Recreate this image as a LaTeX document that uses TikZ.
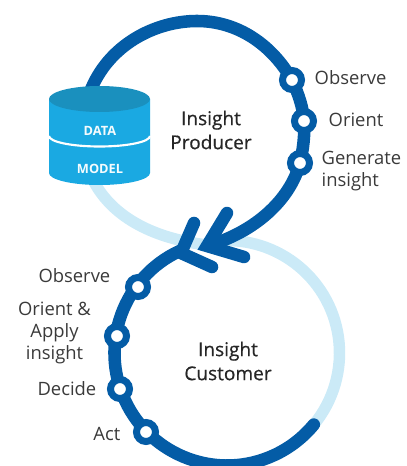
\documentclass[tikz,border=0pt]{standalone}
\usepackage{fontspec}
\setmainfont{Open Sans}
\newfontfamily\semi[FakeBold=0.5]{Open Sans}
\definecolor{dk}{HTML}{045CA6}
\definecolor{lt}{HTML}{CBEAF7}
\definecolor{cyl}{HTML}{1AA9E2}
\definecolor{cylt}{HTML}{1A90BE}
\definecolor{txt}{HTML}{3A3A3A}
\tikzset{
  ring/.style={line width=9.4pt,dk,line cap=butt},
  lite/.style={line width=8.6pt,lt},
  stepdot/.style={circle,draw=dk,fill=white,line width=5.25pt,minimum size=14.25pt,inner sep=0pt},
  lab/.style={font=\fontsize{13.8pt}{16.5pt}\selectfont,text=txt,align=center},
  ttl/.style={font=\fontsize{14.3pt}{18pt}\selectfont\semi,text=black!85,align=center},
  cyltxt/.style={font=\fontsize{9.6pt}{10pt}\selectfont\bfseries,text=white!95!cyl}
}
\begin{document}
\begin{tikzpicture}[x=0.75pt,y=-0.75pt]
\useasboundingbox (0,0) rectangle (406,466);
\clip (0,0) rectangle (406,466);
\coordinate (cB) at (227,353);
% light arcs
\draw[lite] (92,178) .. controls (110,215) and (150,238) .. (207,245);
\draw[lite] (cB) ++(262:112.5) arc[start angle=262,end angle=400,radius=112.5];
% producer loop
\coordinate (obsA) at (292,80);
\coordinate (oriA) at (304,121);
\coordinate (genA) at (300,163);
\coordinate (tipA) at (207,246);
\draw[ring] (90,92) .. controls (108,45) and (155,21) .. (197,21) .. controls (238,21) and (272,45) .. (obsA)
  .. controls (299,95) and (303,108) .. (oriA) .. controls (305,135) and (303,150) .. (genA)
  .. controls (290,200) and (255,232) .. (tipA);
\draw[ring,line cap=round,miter limit=10] (227,213) -- (tipA) -- (244,257);
% consumer loop
\draw[ring,line cap=round] (cB) ++(245:112.5) arc[start angle=245,end angle=39.5,radius=112.5];
\coordinate (vB) at (181,253);
\draw[ring,line cap=round] (194,223) -- (vB) -- (212,267);
\coordinate (obsB) at (138,287);
\coordinate (oriB) at (117,336);
\coordinate (decB) at (120,389);
\coordinate (actB) at (146,432);
% dots
\node[stepdot] (n1) at (obsA) {};
\node[stepdot] (n2) at (oriA) {};
\node[stepdot] (n3) at (genA) {};
\node[stepdot] (n4) at (obsB) {};
\node[stepdot] (n5) at (oriB) {};
\node[stepdot] (n6) at (decB) {};
\node[stepdot] (n7) at (actB) {};
% cylinder
\fill[cyl] (49,99) -- (49,173) arc[start angle=180,end angle=0,x radius=50.5,y radius=12] -- (150,99) -- cycle;
\fill[cylt] (99.5,99) ellipse[x radius=50.5,y radius=13];
\draw[white,line width=1.6pt] (49,136) arc[start angle=180,end angle=0,x radius=50.5,y radius=10.5];
\node[cyltxt] (d1) at (100,131) {DATA};
\node[cyltxt] (d2) at (100,169) {MODEL};
% labels
\node[ttl] (t1) at (211,130) {Insight\\Producer};
\node[ttl] (t2) at (228,361) {Insight\\Customer};
\node[lab,anchor=west] (l1) at (310,78) {Observe};
\node[lab,anchor=west] (l2) at (324,120) {Orient};
\node[lab,anchor=west,align=left] (l3) at (317,171) {Generate\\insight};
\node[lab,anchor=east] (l4) at (115,276) {Observe};
\node[lab] (l5) at (54.5,333) {Orient \&\\Apply\\insight};
\node[lab,anchor=east] (l6) at (101,389) {Decide};
\node[lab,anchor=east] (l7) at (125,434) {Act};
\end{tikzpicture}
\end{document}
